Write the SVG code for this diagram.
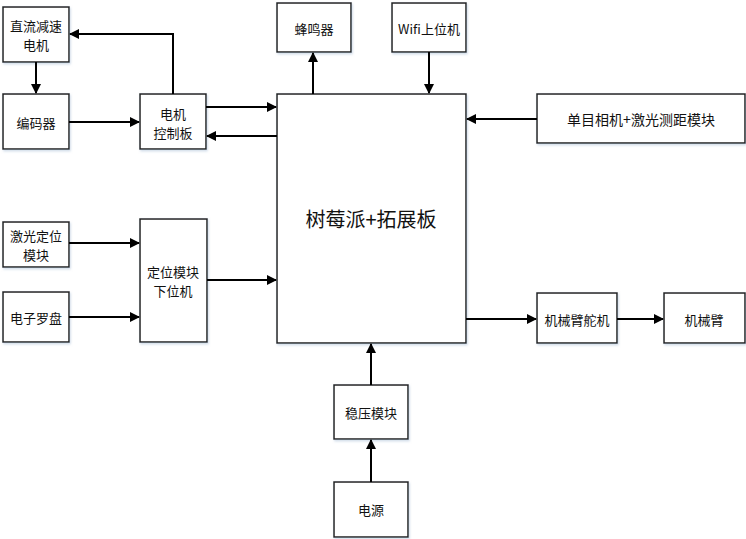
<svg xmlns="http://www.w3.org/2000/svg" width="746" height="539" viewBox="0 0 746 539">
<defs>
<marker id="ah" markerWidth="10" markerHeight="10" refX="9" refY="5" orient="auto" markerUnits="userSpaceOnUse">
<path d="M0,0 L10,5 L0,10 z" fill="#000"/>
</marker>
<filter id="sh" x="-10%" y="-10%" width="130%" height="130%">
<feDropShadow dx="1" dy="1.5" stdDeviation="1" flood-color="#9fb6d0" flood-opacity="0.5"/>
</filter>
</defs>
<style>
.b{fill:#fff;stroke:#222;stroke-width:1.5;filter:url(#sh)}
.t{font-family:"Noto Sans CJK SC","Microsoft YaHei",sans-serif;font-size:13px;fill:#111;text-anchor:middle;dominant-baseline:central}
.c{fill:none;stroke:#000;stroke-width:2;marker-end:url(#ah)}
</style>
<rect width="746" height="539" fill="#fff"/>
<g id="motor"><rect class="b" x="3" y="7" width="66" height="55"/><text class="t" x="36" y="25">直流减速</text><text class="t" x="36" y="44">电机</text></g>
<g id="encoder"><rect class="b" x="3" y="94" width="66" height="55"/><text class="t" x="36" y="122">编码器</text></g>
<g id="motorctl"><rect class="b" x="140" y="94" width="66" height="55"/><text class="t" x="173" y="113">电机</text><text class="t" x="173" y="132">控制板</text></g>
<g id="buzzer"><rect class="b" x="277" y="3" width="74" height="49"/><text class="t" x="314" y="28">蜂鸣器</text></g>
<g id="wifi"><rect class="b" x="392" y="3" width="74" height="49"/><text class="t" x="429" y="28">Wifi上位机</text></g>
<g id="main"><rect class="b" x="277" y="94" width="189" height="249"/><text class="t" x="371" y="218" style="font-size:20px">树莓派+拓展板</text></g>
<g id="camera"><rect class="b" x="537" y="94" width="208" height="49"/><text class="t" x="641" y="119" style="font-size:14px">单目相机+激光测距模块</text></g>
<g id="laser"><rect class="b" x="3" y="222" width="66" height="45"/><text class="t" x="36" y="235">激光定位</text><text class="t" x="36" y="254">模块</text></g>
<g id="compass"><rect class="b" x="3" y="292" width="66" height="50"/><text class="t" x="36" y="317">电子罗盘</text></g>
<g id="locator"><rect class="b" x="140" y="219" width="67" height="123"/><text class="t" x="173" y="271">定位模块</text><text class="t" x="173" y="290">下位机</text></g>
<g id="servo"><rect class="b" x="537" y="293" width="80" height="50"/><text class="t" x="577" y="319">机械臂舵机</text></g>
<g id="arm"><rect class="b" x="664" y="293" width="81" height="50"/><text class="t" x="704" y="319">机械臂</text></g>
<g id="regulator"><rect class="b" x="334" y="385" width="74" height="54"/><text class="t" x="371" y="412">稳压模块</text></g>
<g id="power"><rect class="b" x="334" y="482" width="74" height="55"/><text class="t" x="371" y="509">电源</text></g>
<g id="connectors">
<path class="c" d="M36,62 V93"/>
<path class="c" d="M173,94 V34 H70"/>
<path class="c" d="M69,122 H139"/>
<path class="c" d="M206,107 H276"/>
<path class="c" d="M277,136 H207"/>
<path class="c" d="M313,94 V53"/>
<path class="c" d="M429,52 V93"/>
<path class="c" d="M537,119 H467"/>
<path class="c" d="M69,243 H139"/>
<path class="c" d="M69,317 H139"/>
<path class="c" d="M207,280 H276"/>
<path class="c" d="M466,319 H536"/>
<path class="c" d="M617,319 H663"/>
<path class="c" d="M371,385 V344"/>
<path class="c" d="M371,482 V440"/>
</g>
</svg>
